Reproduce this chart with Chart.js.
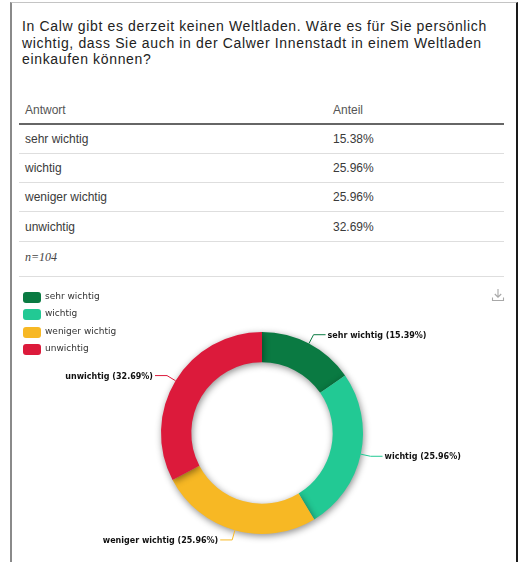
<!DOCTYPE html>
<html>
<head>
<meta charset="utf-8">
<script src="https://cdn.jsdelivr.net/npm/chart.js@4"></script>
<style>
  html, body { margin:0; padding:0; background:#fff; width:525px; height:562px; overflow:hidden; }
  #frame { position:absolute; left:10px; top:2px; width:504px; height:600px;
           border-left:2px solid #8a8a8a; border-top:1px solid #c4c4c4; border-right:2px solid #1a1a1a; }
  #title { position:absolute; left:22px; top:18px; width:482px; font:14px "Liberation Sans", Arial, sans-serif;
           letter-spacing:0.65px; line-height:16.5px; color:#222; }
  .row { position:absolute; left:19px; width:485px; font:12px "Liberation Sans", Arial, sans-serif; color:#3a3a3a; }
  .row span { position:absolute; top:50%; transform:translateY(-50%); white-space:nowrap; }
  .c1 { left:6px; } .c2 { left:314px; }
  .hdr { color:#555; border-bottom:2px solid #666; }
  .sep { border-bottom:1px solid #dedede; }
  .nrow span { font:italic 12px "Liberation Serif", serif; color:#444; }
  #chartwrap { position:absolute; left:12px; top:282px; }
  .li { position:absolute; left:23px; font:9px "DejaVu Sans", sans-serif; color:#333; white-space:nowrap; }
  .li i { position:absolute; left:0; top:0; width:18px; height:11px; border-radius:3px; }
  .li b { position:absolute; left:22px; top:-1px; font-weight:normal; }
  #dl { position:absolute; left:491px; top:288px; }
</style>
</head>
<body>
<div id="frame"></div>
<div id="title">In Calw gibt es derzeit keinen Weltladen. Wäre es für Sie persönlich wichtig, dass Sie auch in der Calwer Innenstadt in einem Weltladen einkaufen können?</div>
<div id="table"></div>
<div id="chartwrap"><canvas id="c" width="502" height="280"></canvas></div>
<div id="legendbox"></div>
<svg id="dl" width="14" height="14" viewBox="0 0 14 14">
  <path d="M7 1 V9 M3.8 6 L7 9.2 L10.2 6 M1.5 9.5 V12.5 H12.5 V9.5" fill="none" stroke="#a8a8a8" stroke-width="1.1"/>
</svg>
<script>
// ---- data ----
const categories = ["sehr wichtig", "wichtig", "weniger wichtig", "unwichtig"];
const shares = [15.38, 25.96, 25.96, 32.69];
const tableShares = ["15.38%", "25.96%", "25.96%", "32.69%"];
const labelShares = ["15.39%", "25.96%", "25.96%", "32.69%"];
const colors = ["#0a7a42", "#22c994", "#f7b824", "#dc1a3b"];
const headers = ["Antwort", "Anteil"];
const sampleNote = "n=104";

// ---- table ----
(function(){
  const t = document.getElementById('table');
  const rows = [];
  rows.push({top:96, h:27, cls:'hdr', a:headers[0], b:headers[1]});
  const tops = [125, 154, 183, 212];
  const hs = [28, 28, 28, 29];
  categories.forEach((c,i)=>rows.push({top:tops[i], h:hs[i], cls:'sep', a:c, b:tableShares[i]}));
  rows.forEach(r=>{
    const d = document.createElement('div');
    d.className = 'row ' + r.cls;
    d.style.top = r.top + 'px'; d.style.height = r.h + 'px';
    d.innerHTML = '<span class="c1"></span><span class="c2"></span>';
    d.children[0].textContent = r.a; d.children[1].textContent = r.b;
    t.appendChild(d);
  });
  const n = document.createElement('div');
  n.className = 'row sep nrow';
  n.style.top = '242px'; n.style.height = '34px';
  n.innerHTML = '<span class="c1" style="top:45%"></span>';
  n.children[0].textContent = sampleNote;
  t.appendChild(n);
})();

// ---- legend ----
(function(){
  const lb = document.getElementById('legendbox');
  const tops = [292, 309, 327, 344];
  categories.forEach((c,i)=>{
    const d = document.createElement('div');
    d.className = 'li'; d.style.top = tops[i] + 'px';
    d.innerHTML = '<i></i><b></b>';
    d.children[0].style.background = colors[i];
    d.children[1].textContent = c;
    lb.appendChild(d);
  });
})();

// ---- plugins ----
const shadowPlugin = {
  id: 'ringShadow',
  beforeDatasetsDraw(chart) {
    const ctx = chart.ctx;
    ctx.save();
    ctx.shadowColor = 'rgba(0,0,0,0.45)';
    ctx.shadowBlur = 7;
    ctx.shadowOffsetX = 1;
    ctx.shadowOffsetY = 2;
  },
  afterDatasetsDraw(chart) { chart.ctx.restore(); }
};

const labelPlugin = {
  id: 'outLabels',
  afterDraw(chart) {
    const ctx = chart.ctx;
    const meta = chart.getDatasetMeta(0);
    ctx.save();
    ctx.font = 'bold 8px "DejaVu Sans", sans-serif';
    ctx.textBaseline = 'middle';
    meta.data.forEach((arc, i) => {
      const p = arc.getProps(['x','y','startAngle','endAngle','outerRadius'], true);
      const mid = (p.startAngle + p.endAngle) / 2;
      const cos = Math.cos(mid), sin = Math.sin(mid);
      const x1 = p.x + cos * p.outerRadius, y1 = p.y + sin * p.outerRadius;
      const x2 = p.x + cos * (p.outerRadius + 10), y2 = p.y + sin * (p.outerRadius + 10);
      const right = cos >= 0;
      const x3 = x2 + (right ? 12 : -12);
      ctx.strokeStyle = colors[i];
      ctx.lineWidth = 1;
      ctx.beginPath();
      ctx.moveTo(x1, y1); ctx.lineTo(x2, y2); ctx.lineTo(x3, y2);
      ctx.stroke();
      ctx.fillStyle = '#111';
      ctx.textAlign = right ? 'left' : 'right';
      ctx.fillText(categories[i] + ' (' + labelShares[i] + ')', x3 + (right ? 2 : -2), y2 + 1);
    });
    ctx.restore();
  }
};

new Chart(document.getElementById('c'), {
  type: 'doughnut',
  data: {
    labels: categories,
    datasets: [{
      data: shares,
      backgroundColor: colors,
      borderWidth: 0,
      hoverOffset: 0
    }]
  },
  options: {
    responsive: false,
    devicePixelRatio: 1,
    animation: false,
    cutout: '70%',
    layout: { padding: { top: 50, bottom: 28, left: 0, right: 2 } },
    plugins: { legend: { display: false }, tooltip: { enabled: false } }
  },
  plugins: [shadowPlugin, labelPlugin]
});
</script>
</body>
</html>
